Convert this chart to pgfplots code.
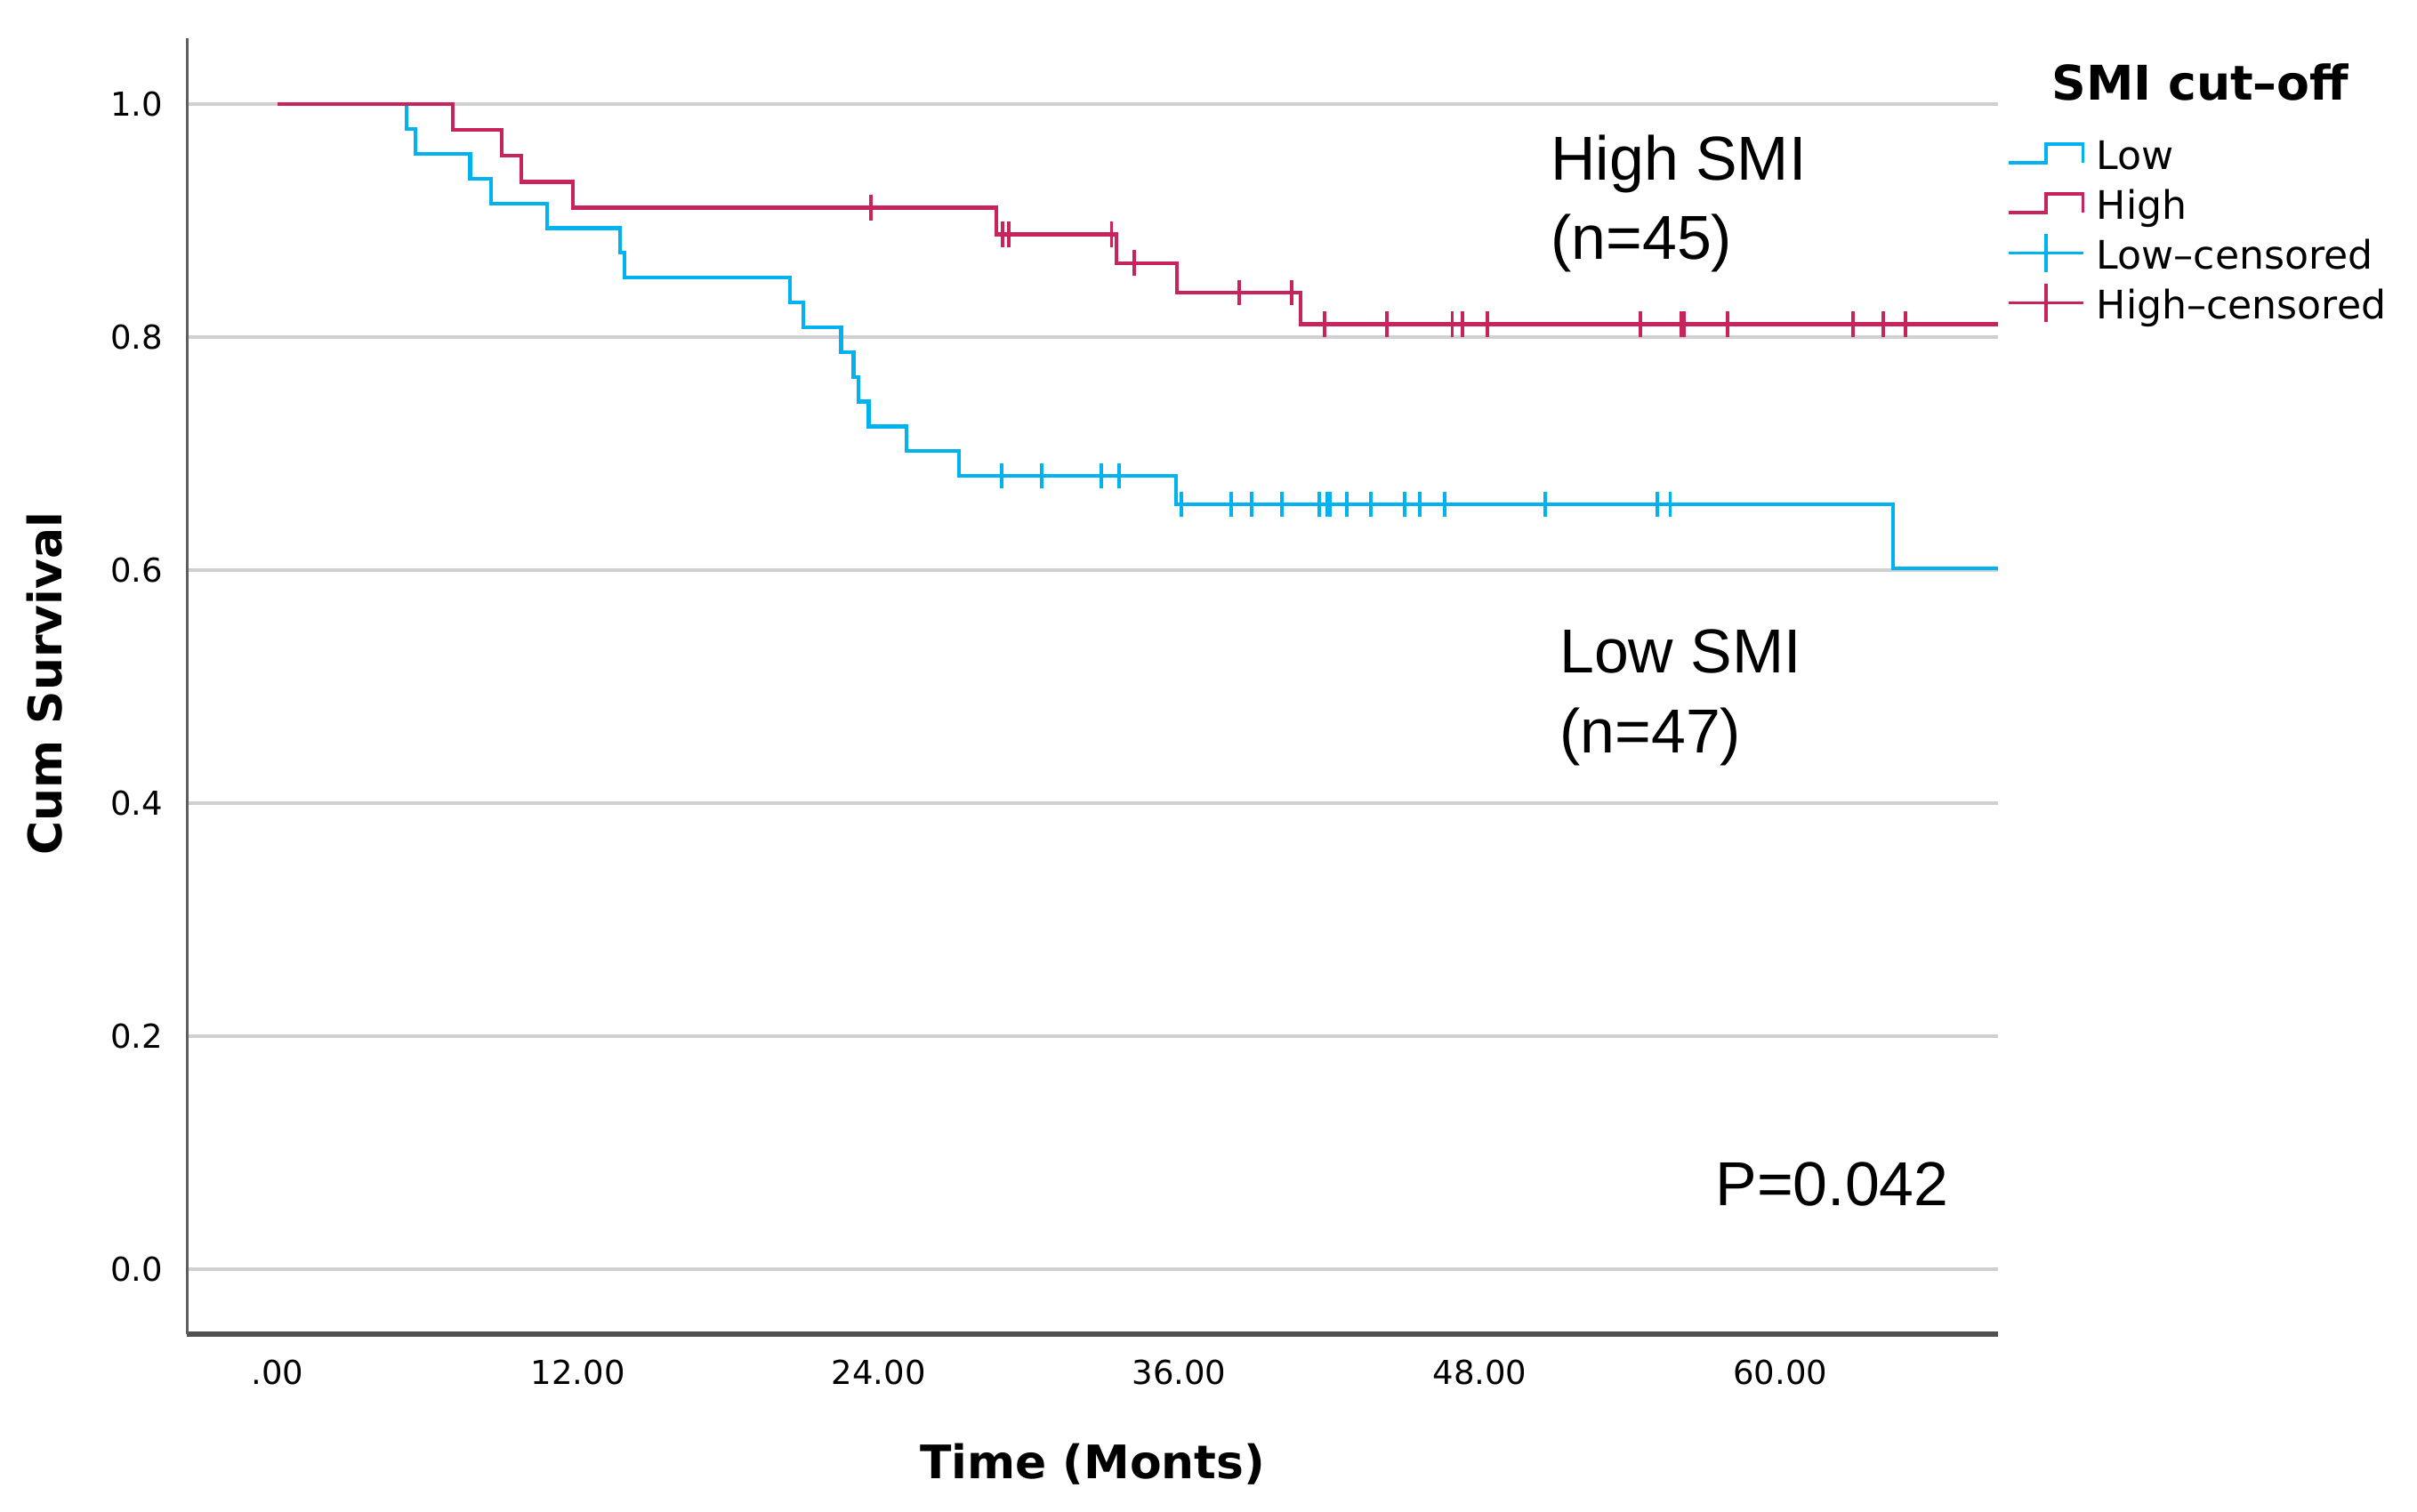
\documentclass[border=0pt]{standalone}
\usepackage{fontspec}
\setmainfont{DejaVu Sans}
\newfontfamily\annot{Liberation Sans}
\usepackage{pgfplots}
\pgfplotsset{compat=1.18}
\definecolor{lowc}{RGB}{0,178,240}
\definecolor{highc}{RGB}{200,35,90}
\definecolor{gridc}{RGB}{208,208,208}
\definecolor{spinec}{RGB}{95,95,95}

\begin{document}
\begin{tikzpicture}
\begin{axis}[
  scale only axis, width=341.2pt, height=244.1pt,
  at={(0,0)}, anchor=south west,
  xmin=-3.62, xmax=68.7, ymin=-0.0556, ymax=1.0564,
  axis x line=bottom, axis y line=left,
  axis line style={-},
  x axis line style={-, line width=0.85pt, draw=spinec!85!black},
  y axis line style={-, line width=0.5pt, draw=spinec},
  xtick={0,12,24,36,48,60},
  xticklabels={.00,12.00,24.00,36.00,48.00,60.00},
  ytick={0,0.2,0.4,0.6,0.8,1.0},
  yticklabels={0.0,0.2,0.4,0.6,0.8,1.0},
  major tick length=0pt,
  ymajorgrids, grid style={draw=gridc, line width=0.75pt},
  tick label style={font=\fontsize{6.2}{7}\selectfont},
  xticklabel style={anchor=base, yshift=-9.5pt},
  yticklabel style={anchor=east, xshift=-1pt},
  xlabel={Time (Monts)},
  ylabel={Cum Survival},
  xlabel style={at={(rel axis cs:0.5,0)}, anchor=base, yshift=-27.3pt, font=\bfseries\fontsize{8.7}{10}\selectfont},
  ylabel style={at={(axis description cs:-0.0786,0.502)}, anchor=center, font=\bfseries\fontsize{8.7}{10}\selectfont},
  clip mode=individual,
  legend cell align=left,
  legend style={at={(rel axis cs:1.0049,0.9278)}, anchor=north west, draw=none, fill=none,
    inner sep=0pt, outer sep=0pt, row sep=0.4pt, column sep=0pt,
    font=\fontsize{7.4}{8}\selectfont,
    nodes={inner sep=0pt, text height=7pt, text depth=2pt}},
]
% Low SMI step curve
\addplot[const plot, lowc, line width=0.7pt,
  legend image code/.code={\draw[lowc, line width=0.6pt] (0pt,-1.3pt) -- (7pt,-1.3pt) -- (7pt,2.2pt) -- (14pt,2.2pt) -- (14pt,-1.3pt); \path (16.2pt,0pt);}]
coordinates {
(0,1) (5.14,0.9787) (5.5,0.9574) (7.69,0.9362) (8.54,0.9149) (10.75,0.8936)
(13.68,0.8723) (13.85,0.8511) (20.46,0.8298) (21.0,0.8085) (22.5,0.7872)
(23.0,0.7660) (23.2,0.7447) (23.6,0.7234) (25.1,0.7021) (27.2,0.6809)
(35.86,0.6566) (64.5,0.6019) (68.7,0.6019)
};
\addlegendentry{Low}
% High SMI step curve
\addplot[const plot, highc, line width=0.7pt,
  legend image code/.code={\draw[highc, line width=0.6pt] (0pt,-1.3pt) -- (7pt,-1.3pt) -- (7pt,2.2pt) -- (14pt,2.2pt) -- (14pt,-1.3pt); \path (16.2pt,0pt);}]
coordinates {
(0,1) (7.0,0.9778) (8.95,0.9556) (9.73,0.9333) (11.8,0.9111)
(28.7,0.8883) (33.5,0.8636) (35.9,0.8382) (40.85,0.8112) (68.7,0.8112)
};
\addlegendentry{High}
% Low censored
\addplot[only marks, mark=|, mark size=2.4pt, lowc, mark options={line width=0.65pt},
  legend image code/.code={\draw[lowc, line width=0.6pt] (0pt,0.5pt) -- (14pt,0.5pt); \draw[lowc, line width=0.6pt] (7pt,-3.1pt) -- (7pt,4.1pt); \path (16.2pt,0pt);}]
coordinates {
(28.9,0.6809) (30.5,0.6809) (32.9,0.6809) (33.6,0.6809)
(36.1,0.6566) (38.06,0.6566) (38.9,0.6566) (40.1,0.6566) (41.6,0.6566)
(41.9,0.6566) (42.03,0.6566) (42.7,0.6566) (43.65,0.6566) (45.0,0.6566)
(45.6,0.6566) (46.6,0.6566) (50.6,0.6566) (55.1,0.6566) (55.6,0.6566)
};
\addlegendentry{Low--censored}
% High censored
\addplot[only marks, mark=|, mark size=2.4pt, highc, mark options={line width=0.65pt},
  legend image code/.code={\draw[highc, line width=0.6pt] (0pt,0.5pt) -- (14pt,0.5pt); \draw[highc, line width=0.6pt] (7pt,-3.1pt) -- (7pt,4.1pt); \path (16.2pt,0pt);}]
coordinates {
(23.7,0.9111)
(28.95,0.8883) (29.2,0.8883) (33.3,0.8883)
(34.2,0.8636)
(38.4,0.8382) (40.5,0.8382)
(41.8,0.8112) (44.3,0.8112) (46.9,0.8112) (47.3,0.8112) (48.3,0.8112)
(54.4,0.8112) (56.05,0.8112) (56.15,0.8112) (57.9,0.8112) (62.9,0.8112)
(64.1,0.8112) (65.0,0.8112)
};
\addlegendentry{High--censored}

\node[anchor=base, font=\bfseries\fontsize{9}{10}\selectfont, inner sep=0pt] at (rel axis cs:1.1115,0.9526) {SMI cut--off};

\node[anchor=base west, inner sep=0pt, font=\annot\fontsize{11.7}{14}\selectfont] at (axis cs:50.8,0.9345) {High SMI};
\node[anchor=base west, inner sep=0pt, font=\annot\fontsize{11.7}{14}\selectfont] at (axis cs:50.8,0.8666) {(n=45)};
\node[anchor=base west, inner sep=0pt, font=\annot\fontsize{11.7}{14}\selectfont] at (axis cs:51.15,0.5122) {Low SMI};
\node[anchor=base west, inner sep=0pt, font=\annot\fontsize{11.7}{14}\selectfont] at (axis cs:51.15,0.4436) {(n=47)};
\node[anchor=base west, inner sep=0pt, font=\annot\fontsize{11.7}{14}\selectfont] at (axis cs:57.37,0.0549) {P=0.042};
\end{axis}
\pgfresetboundingbox
\path (-35.19pt,-33.35pt) rectangle (420.07pt,251.34pt);
\end{tikzpicture}
\end{document}
